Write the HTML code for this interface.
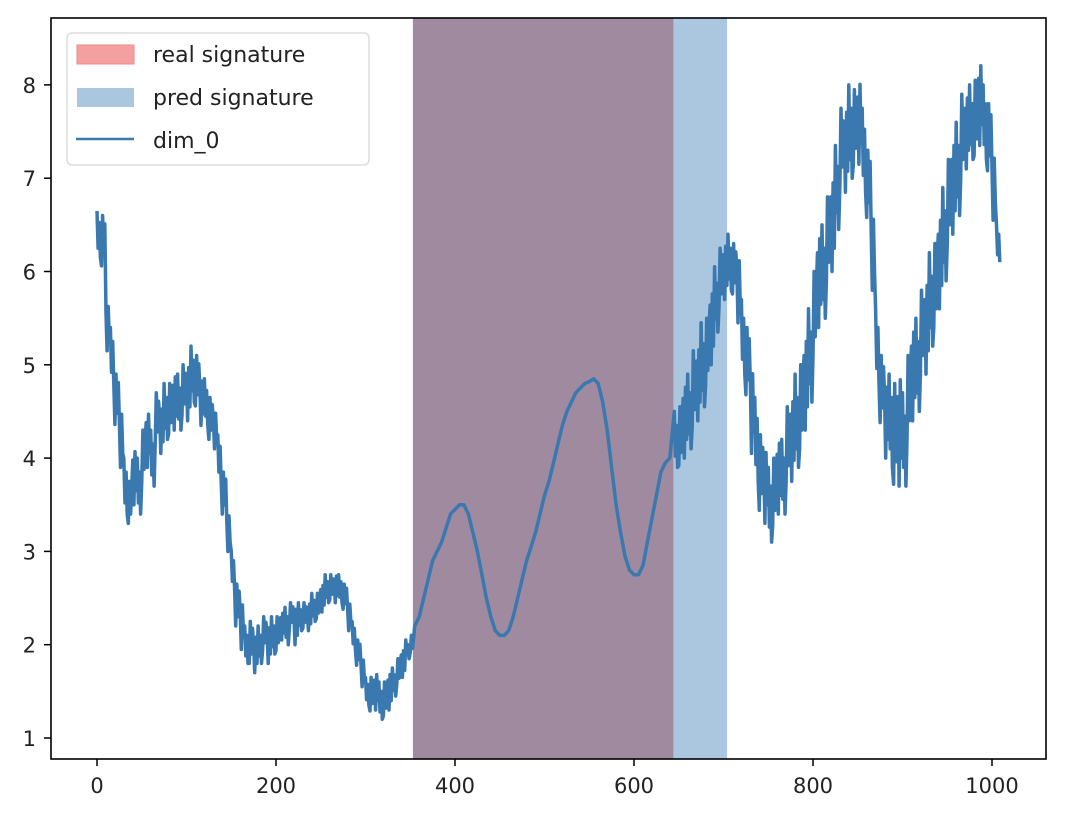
<!DOCTYPE html>
<html><head><meta charset="utf-8"><style>
html,body{margin:0;padding:0;background:#fff;}
svg{display:block;font-family:"DejaVu Sans","Liberation Sans",sans-serif;}
</style></head><body>
<svg id="chart" width="1068" height="830" viewBox="0 0 1068 830" xmlns="http://www.w3.org/2000/svg">
<g id="spans"></g>
<g id="line"></g>
<rect x="51" y="18" width="995" height="741" fill="none" stroke="#000" stroke-width="1.6"/>
<g id="xticks"></g>
<g id="yticks"></g>
<g>
<rect x="67" y="33" width="302" height="132" rx="5" fill="#fff" fill-opacity="0.85" stroke="#ddd" stroke-width="1.5"/>
<rect x="77" y="45" width="57" height="19" fill="#f4a0a0" stroke="#ee8a8a"/>
<text x="153" y="62" font-size="22" fill="#222">real signature</text>
<rect x="77" y="88" width="57" height="19" fill="#abc7df"/>
<text x="153" y="105" font-size="22" fill="#222">pred signature</text>
<line x1="76" y1="139" x2="134" y2="139" stroke="#3a78b0" stroke-width="2.5"/>
<text x="153" y="148" font-size="22" fill="#222">dim_0</text>
</g>
</svg>
<script>
const xStep = 5;
const values = [
6.4,6.3,5.4,5.1,4.6,4.2,3.7,3.5,3.8,3.7,4.0,
4.2,4.0,4.4,4.3,4.5,4.5,4.6,4.6,4.7,4.7,
4.9,4.8,4.6,4.6,4.4,4.3,4.0,3.6,3.2,2.8,
2.4,2.2,2.0,2.0,1.9,2.0,2.1,2.0,2.1,2.1,
2.2,2.2,2.3,2.2,2.3,2.3,2.3,2.4,2.4,2.5,
2.6,2.6,2.6,2.6,2.5,2.3,2.1,1.9,1.7,1.5,
1.45,1.5,1.4,1.4,1.5,1.6,1.7,1.8,1.95,2.0,
2.2,2.3,2.5,2.7,2.9,3.0,3.1,3.25,3.4,3.45,
3.5,3.5,3.4,3.2,3.0,2.75,2.5,2.3,2.15,2.1,
2.1,2.15,2.3,2.5,2.7,2.9,3.05,3.2,3.4,3.6,
3.75,3.95,4.15,4.35,4.5,4.6,4.7,4.75,4.8,4.82,
4.85,4.8,4.6,4.3,3.9,3.5,3.2,2.95,2.8,2.75,
2.75,2.85,3.1,3.35,3.6,3.85,3.95,4.0,4.2,4.2,
4.4,4.5,4.7,4.8,5.0,5.1,5.4,5.7,5.9,6.0,
6.1,6.0,5.8,5.3,5.0,4.5,4.2,3.8,3.7,3.5,
3.6,3.8,3.8,4.1,4.2,4.4,4.5,4.8,5.1,5.5,
5.9,6.0,6.3,6.5,6.9,7.3,7.3,7.5,7.5,7.6,
7.3,6.9,6.2,5.2,4.7,4.4,4.4,4.2,4.3,4.2,
4.6,4.9,5.0,5.3,5.4,5.7,5.8,6.1,6.4,6.7,
6.9,7.1,7.4,7.5,7.6,7.6,7.8,7.6,7.4,6.9,
6.3];
const spread = [
0.25,0.3,0.25,0.3,0.3,0.3,0.3,0.25,0.3,0.3,0.3,
0.3,0.3,0.3,0.25,0.3,0.3,0.3,0.3,0.3,0.3,
0.3,0.3,0.25,0.25,0.25,0.2,0.25,0.25,0.2,0.2,
0.25,0.25,0.2,0.25,0.2,0.2,0.2,0.2,0.2,0.2,
0.15,0.2,0.15,0.2,0.15,0.15,0.15,0.15,0.15,0.15,
0.15,0.15,0.15,0.15,0.15,0.15,0.15,0.15,0.15,0.15,
0.2,0.2,0.2,0.2,0.2,0.15,0.15,0.15,0.1,0.1,
0.02,0.02,0.02,0.02,0.02,0.02,0.02,0.02,0.02,0.02,
0.02,0.02,0.02,0.02,0.02,0.02,0.02,0.02,0.02,0.02,
0.02,0.02,0.02,0.02,0.02,0.02,0.02,0.02,0.02,0.02,
0.02,0.02,0.02,0.02,0.02,0.02,0.02,0.02,0.02,0.02,
0.02,0.02,0.02,0.02,0.02,0.02,0.02,0.02,0.02,0.02,
0.02,0.02,0.02,0.02,0.02,0.02,0.02,0.02,0.3,0.35,
0.4,0.4,0.45,0.4,0.45,0.4,0.4,0.35,0.35,0.3,
0.3,0.3,0.35,0.4,0.4,0.45,0.45,0.45,0.4,0.4,
0.4,0.4,0.4,0.45,0.45,0.5,0.5,0.5,0.5,0.5,
0.5,0.5,0.5,0.5,0.45,0.45,0.45,0.5,0.45,0.45,
0.45,0.4,0.4,0.4,0.4,0.4,0.5,0.6,0.6,0.5,
0.5,0.5,0.5,0.5,0.5,0.5,0.5,0.5,0.5,0.5,
0.5,0.5,0.5,0.4,0.4,0.45,0.45,0.4,0.4,0.35,
0.2];
const realSpan = [353, 644];
const predSpan = [353, 704];
const xTicks = [0,200,400,600,800,1000];
const yTicks = [1,2,3,4,5,6,7,8];

const NS = "http://www.w3.org/2000/svg";
const xs = v => 97 + v * 0.895;
const ys = v => 738 - (v - 1) * 93.3;
function mk(tag, attrs, parent){const e=document.createElementNS(NS,tag);for(const k in attrs)e.setAttribute(k,attrs[k]);parent.appendChild(e);return e;}

const spans = document.getElementById('spans');
const p = mk('rect',{x:xs(predSpan[0]),y:18,width:xs(predSpan[1])-xs(predSpan[0]),height:741,fill:'#abc7df'},spans);


const r = mk('rect',{x:xs(realSpan[0]),y:18,width:xs(realSpan[1])-xs(realSpan[0]),height:741,fill:'#a08a9f'},spans);



// zigzag through each value's noise band: top then bottom at sub-steps
const ptsArr = [];
values.forEach((v,i)=>{
  const s = spread[i];
  const x0 = i*xStep;
  if (s < 0.05) { ptsArr.push(xs(x0).toFixed(1)+','+ys(v).toFixed(1)); return; }
  const n = i%3===0 ? [v+s, v-s*0.6, v+s*0.5, v-s] : (i%3===1 ? [v-s*0.8, v+s, v-s*0.4, v+s*0.7] : [v+s*0.6, v-s, v+s*0.9, v-s*0.5]);
  n.forEach((y,k)=>ptsArr.push(xs(x0+k*1.25).toFixed(1)+','+ys(y).toFixed(1)));
});
const pl = mk('polyline',{points:ptsArr.join(' '),fill:'none',stroke:'#3a78b0','stroke-width':3.5,'stroke-linejoin':'round'},document.getElementById('line'));



const xg = document.getElementById('xticks');
xTicks.forEach(t=>{
  const l = mk('line',{x1:xs(t),x2:xs(t),y1:759,y2:766,stroke:'#000','stroke-width':1.5},xg);
  
  
  const tx = mk('text',{x:xs(t),y:793,'text-anchor':'middle','font-size':21,fill:'#222'},xg);
  tx.textContent = t;
  
  
});
const yg = document.getElementById('yticks');
yTicks.forEach(t=>{
  const l = mk('line',{x1:44,x2:51,y1:ys(t),y2:ys(t),stroke:'#000','stroke-width':1.5},yg);
  
  
  const tx = mk('text',{x:36,y:ys(t)+8,'text-anchor':'end','font-size':21,fill:'#222'},yg);
  tx.textContent = t;
  
  
});
</script>
</body></html>
